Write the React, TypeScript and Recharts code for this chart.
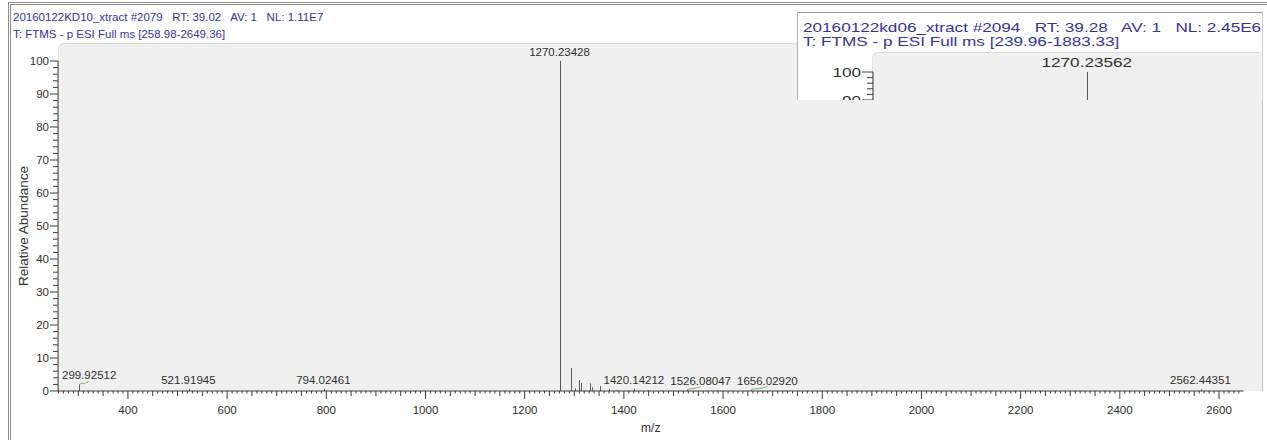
import { Bar, BarChart, XAxis, YAxis } from "recharts";

const FONT = "'Liberation Sans', Arial, Helvetica, sans-serif";
const INK = "#2f2f2f";
const AXIS = "#3c3c3c";
const STICK = "#5a5a5a";
const TITLE = "#34349e";
const PANEL = "#f0f0f0";
const LINK = "#6cc46c";

// KD10 scan, full range
const kd10Title = "20160122KD10_xtract #2079   RT: 39.02   AV: 1   NL: 1.11E7";
const kd10Filter = "T: FTMS - p ESI Full ms [258.98-2649.36]";
const kd10Range: [number, number] = [258.98, 2649.36];
const kd10Mz = [
  299.92512, 521.91945, 794.02461, 1270.23428, 1292.22, 1300.9, 1308.2, 1312.8,
  1330.1, 1334.6, 1350.2, 1368.4, 1385.3, 1420.14212, 1448.5, 1476.2,
  1526.08047, 1586.7, 1656.0292, 2562.44351,
];
const kd10Abund = [
  2.0, 0.6, 0.6, 100, 7.0, 0.8, 3.3, 2.4,
  2.3, 1.1, 1.5, 0.6, 0.3, 0.7, 0.3, 0.3,
  0.4, 0.2, 0.4, 0.5,
];
const kd10Labelled = [299.92512, 521.91945, 794.02461, 1270.23428, 1420.14212, 1526.08047, 1656.0292, 2562.44351];

// KD06 scan, pasted on top; only its upper edge shows
const kd06Title = "20160122kd06_xtract #2094   RT: 39.28   AV: 1   NL: 2.45E6";
const kd06Filter = "T: FTMS - p ESI Full ms [239.96-1883.33]";
const kd06Range: [number, number] = [239.96, 1883.33];
const kd06Mz = [1270.23562];
const kd06Abund = [100];
const kd06Labelled = [1270.23562];

const yTicks = Array.from({ length: 51 }, (_, i) => i * 2);
const xTicks = Array.from({ length: 239 }, (_, i) => 260 + i * 10);
// the inset is cut off below ~88 %, so only its top ticks are drawn
const insetTicks = yTicks.filter((v) => v >= 88);

const W = 1267;
const H = 440;
const PLOT = { left: 58, right: 1243.5, top: 61, bottom: 391 };

// inset box (inner coords start at 798,13 because of the 1px border)
const IN = { w: 464, h: 87, left: 75, right: 416, top: 59, bottom: 339, chartH: 400 };
const IN_SX = 1.27;

const em = (s: string) => [...s].reduce((w, c) => w + (c === "." ? 0.278 : 0.556), 0);

// push labels right so neighbours on the same row do not overlap
function placeLabels(mz: number[], ab: number[], labelled: number[],
  toX: (m: number) => number, toY: (a: number) => number, size: number, sx: number, minLeft: number) {
  const spots: { y: number; right: number }[] = [];
  return mz.map((m, i) => {
    if (!labelled.includes(m)) return null;
    const w = em(m.toFixed(5)) * size * sx;
    const y = toY(ab[i]);
    let left = Math.max(toX(m) - w / 2, minLeft);
    for (const s of spots) if (Math.abs(s.y - y) < size && left < s.right + 6) left = s.right + 6;
    spots.push({ y, right: left + w });
    return left + w / 2;
  });
}

function buildRows(mz: number[], ab: number[], labelled: number[], centers: (number | null)[]) {
  return mz.map((m, i) => ({
    mz: m,
    ab: ab[i],
    text: labelled.includes(m) ? m.toFixed(5) : undefined,
    lx: centers[i],
  }));
}

const kd10Centers = placeLabels(
  kd10Mz, kd10Abund, kd10Labelled,
  (m) => PLOT.left + ((m - kd10Range[0]) / (kd10Range[1] - kd10Range[0])) * (PLOT.right - PLOT.left),
  (a) => PLOT.bottom - (a / 100) * (PLOT.bottom - PLOT.top),
  11.5, 1, PLOT.left + 4,
);
const kd10Rows = buildRows(kd10Mz, kd10Abund, kd10Labelled, kd10Centers);

const kd06Centers = placeLabels(
  kd06Mz, kd06Abund, kd06Labelled,
  (m) => IN.left + ((m - kd06Range[0]) / (kd06Range[1] - kd06Range[0])) * (IN.right - IN.left),
  (a) => IN.bottom - (a / 100) * (IN.bottom - IN.top),
  13.5, IN_SX, IN.left + 4,
);
const kd06Rows = buildRows(kd06Mz, kd06Abund, kd06Labelled, kd06Centers);

// centroid stick with its m/z label; a green leader when the label was pushed aside
const stick = (size: number, sx: number) => (p: any) => {
  const { x, y, width, height, payload } = p;
  const cx = Math.round(x + width / 2) + 0.5;
  const base = y + height;
  const by = y - 5;
  const moved = payload.text && Math.abs(payload.lx - cx) > 3;
  return (
    <g>
      <line x1={cx} x2={cx} y1={y} y2={base} stroke={STICK} strokeWidth={1} />
      {moved && (
        <path d={`M${cx} ${y - 0.5} Q${(cx + payload.lx) / 2} ${y - 0.5} ${payload.lx} ${by + 2}`}
          stroke={LINK} strokeWidth={1} fill="none" />
      )}
      {payload.text && (
        <text transform={`translate(${payload.lx},${by}) scale(${sx},1)`} textAnchor="middle"
          fontSize={size} fill={INK} fontFamily={FONT}>{payload.text}</text>
      )}
    </g>
  );
};

const yTick = (size: number, sx: number, major: number, minor: number) => (p: any) => {
  const { x, y, payload } = p;
  const ax = x + 8;
  const isMajor = payload.value % 10 === 0;
  return (
    <g>
      <line x1={ax - (isMajor ? major : minor)} x2={ax} y1={y} y2={y} stroke={AXIS} />
      {isMajor && (
        <text transform={`translate(${ax - major - 1},${y}) scale(${sx},1)`} textAnchor="end"
          dominantBaseline="central" fontSize={size} fill={INK} fontFamily={FONT}>{payload.value}</text>
      )}
    </g>
  );
};

function XTick(p: any) {
  const { x, y, payload } = p;
  const ay = y - 8;
  const v = payload.value;
  const isMajor = v % 200 === 0;
  const len = isMajor ? 8 : v % 50 === 0 ? 5 : 2.5;
  return (
    <g>
      <line x1={x} x2={x} y1={ay} y2={ay + len} stroke={AXIS} />
      {isMajor && (
        <text x={x} y={ay + 18.5} textAnchor="middle" dominantBaseline="central"
          fontSize={11.5} fill={INK} fontFamily={FONT}>{v}</text>
      )}
    </g>
  );
}

function Header({ x, y, lines, size, sx, gap }: { x: number; y: number; lines: string[]; size: number; sx: number; gap: number }) {
  return (
    <>
      {lines.map((t, i) => (
        <div key={i} style={{
          position: "absolute", left: x, top: y + i * gap, whiteSpace: "pre", fontSize: size,
          lineHeight: `${size + 2}px`, color: TITLE, transform: `scaleX(${sx})`, transformOrigin: "left center",
        }}>{t}</div>
      ))}
    </>
  );
}

function Inset() {
  return (
    <div style={{
      position: "absolute", left: 797, top: 12, width: IN.w, height: IN.h, background: "#fff",
      overflow: "hidden", borderTop: "1px solid #9a9a9a", borderLeft: "1px solid #b4b4b4", borderRight: "1px solid #d0d0d0",
    }}>
      <div style={{
        position: "absolute", left: IN.left, top: 40, width: 388, height: 200, background: PANEL,
        borderTopLeftRadius: 5, boxShadow: "0 -1px 0 #dcdcdc, -1px 0 0 #e2e2e2",
      }} />
      <Header x={5} y={7} lines={[kd06Title, kd06Filter]} size={13.5} sx={IN_SX} gap={14} />
      <div style={{ position: "absolute", left: 0, top: 0 }}>
        <BarChart width={IN.w} height={IN.chartH} data={kd06Rows}
          margin={{ top: IN.top, right: IN.w - IN.right, bottom: IN.chartH - IN.bottom, left: 0 }}>
          <XAxis type="number" dataKey="mz" domain={kd06Range} hide />
          <YAxis type="number" domain={[0, 100]} ticks={insetTicks} interval={0} width={IN.left}
            tickSize={8} tickMargin={0} tickLine={false} axisLine={{ stroke: AXIS }}
            tick={yTick(13.5, IN_SX, 11, 6)} />
          <Bar dataKey="ab" barSize={1} shape={stick(13.5, IN_SX)} isAnimationActive={false} />
        </BarChart>
      </div>
    </div>
  );
}

export default function App() {
  return (
    <div style={{
      position: "absolute", left: 0, top: 0, width: W, height: H, background: "#fff",
      overflow: "hidden", fontFamily: FONT,
    }}>
      <div style={{
        position: "absolute", left: 8, top: 2, width: 1262, height: 470,
        borderLeft: "3px double #8c8c8c", borderTop: "3px double #8c8c8c",
      }} />
      <div style={{
        position: "absolute", left: 59, top: 44, width: 1203, height: 347, background: PANEL,
        borderTopLeftRadius: 5, boxShadow: "1px 0 0 #c4c4c4, 0 -1px 0 #dcdcdc, -1px 0 0 #e0e0e0",
      }} />
      <Header x={13} y={11} lines={[kd10Title, kd10Filter]} size={11.5} sx={1} gap={17} />
      <div style={{ position: "absolute", left: 0, top: 0 }}>
        <BarChart width={W} height={H} data={kd10Rows}
          margin={{ top: PLOT.top, right: W - PLOT.right, bottom: 0, left: 0 }}>
          <XAxis type="number" dataKey="mz" domain={kd10Range} ticks={xTicks} interval={0}
            height={H - PLOT.bottom} tickSize={8} tickMargin={0} tickLine={false}
            axisLine={{ stroke: AXIS }} tick={XTick}
            label={({ viewBox }: any) => (
              <text x={viewBox.x + viewBox.width / 2} y={428} textAnchor="middle" dominantBaseline="central"
                fontSize={12} fill={INK} fontFamily={FONT}>m/z</text>
            )} />
          <YAxis type="number" domain={[0, 100]} ticks={yTicks} interval={0} width={PLOT.left}
            tickSize={8} tickMargin={0} tickLine={false} axisLine={{ stroke: AXIS }}
            tick={yTick(11.5, 1, 8, 5)}
            label={({ viewBox }: any) => (
              <text transform={`translate(23,${viewBox.y + viewBox.height / 2}) rotate(-90)`}
                textAnchor="middle" dominantBaseline="central" fontSize={13.5} fill={INK}
                fontFamily={FONT}>Relative Abundance</text>
            )} />
          <Bar dataKey="ab" barSize={1} shape={stick(11.5, 1)} isAnimationActive={false} />
        </BarChart>
      </div>
      <Inset />
    </div>
  );
}
